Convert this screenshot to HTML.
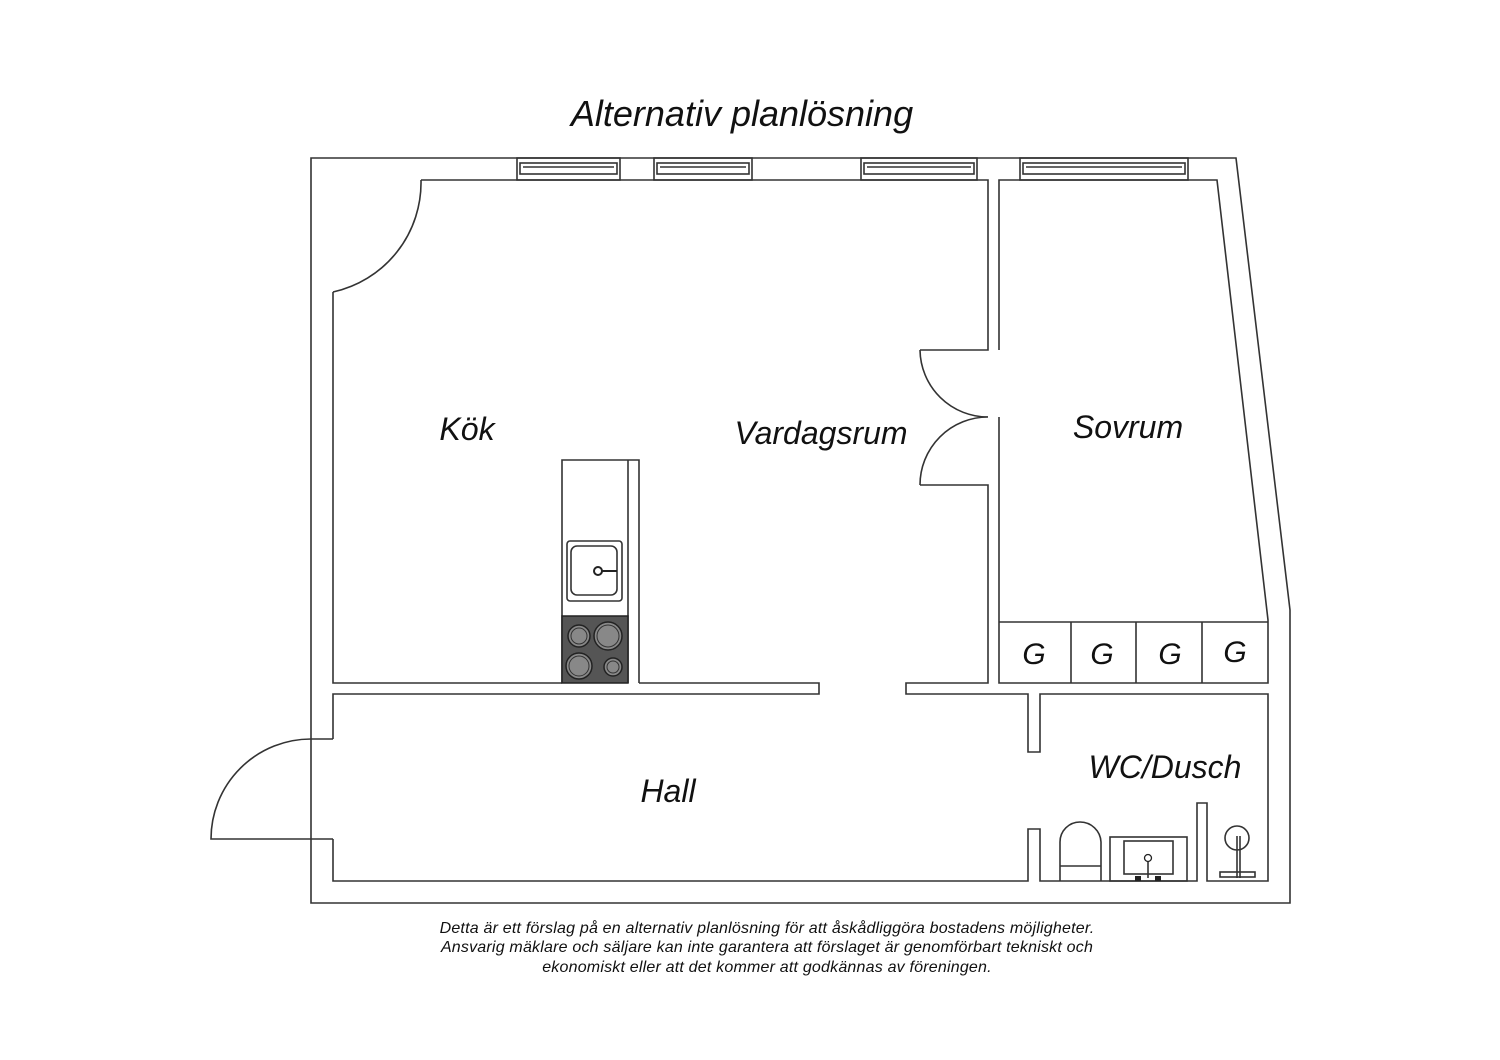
<!DOCTYPE html>
<html><head><meta charset="utf-8"><style>
html,body{margin:0;padding:0;background:#fff;}
svg{display:block}
text{font-family:"Liberation Sans",sans-serif;font-style:italic;fill:#111;}
</style></head><body>
<svg width="1500" height="1060" viewBox="0 0 1500 1060" xmlns="http://www.w3.org/2000/svg">
<rect width="1500" height="1060" fill="#fff"/>
<g fill="none" stroke="#333" stroke-width="1.6">
<path d="M311,158 L1236,158 L1290,610 L1290,903 L311,903 Z"/>
<path d="M421,180 L988,180 L988,350 L920,350"/>
<path d="M333,292 L333,683 L562,683"/>
<path d="M639,683 L819,683 L819,694 L333,694 L333,739"/>
<path d="M920,485 L988,485 L988,683 L906,683 L906,694 L1028,694 L1028,752 L1040,752 L1040,694 L1268,694 L1268,881 L1207,881 L1207,803 L1197,803 L1197,881 L1040,881 L1040,829 L1028,829 L1028,881 L333,881 L333,839"/>
<path d="M999,350 L999,180 L1217,180 L1268,620 L1268,683 L999,683 L999,417"/>
<path d="M999,622 L1268,622 M1071,622 L1071,683 M1136,622 L1136,683 M1202,622 L1202,683"/>
<path d="M421,180 A112,112 0 0 1 333,292"/>
<path d="M333,739 L311,739 A100,100 0 0 0 211,839 L333,839"/>
<path d="M920,350 A68,68 0 0 0 988,417 A68,68 0 0 0 920,485"/>
<g>
<rect x="517" y="158" width="103" height="22"/><rect x="520" y="163" width="97" height="11"/><line x1="523" y1="167" x2="614" y2="167"/>
<rect x="654" y="158" width="98" height="22"/><rect x="657" y="163" width="92" height="11"/><line x1="660" y1="167" x2="746" y2="167"/>
<rect x="861" y="158" width="116" height="22"/><rect x="864" y="163" width="110" height="11"/><line x1="867" y1="167" x2="971" y2="167"/>
<rect x="1020" y="158" width="168" height="22"/><rect x="1023" y="163" width="162" height="11"/><line x1="1026" y1="167" x2="1182" y2="167"/>
</g>
<path d="M562,683 L562,460 L639,460 L639,683 M628,460 L628,683"/>
<rect x="567" y="541" width="55" height="60" rx="3"/>
<rect x="571" y="546" width="46" height="49" rx="6"/>
<path d="M1060,881 L1060,842 A20,20 0 0 1 1080,822 A21,21 0 0 1 1101,842 L1101,881 M1060,866 L1101,866"/>
<rect x="1110" y="837" width="77" height="44"/>
<rect x="1124" y="841" width="49" height="33"/>
<line x1="1148" y1="860" x2="1148" y2="878"/>
<circle cx="1237" cy="838" r="12"/>
<line x1="1237" y1="836" x2="1237" y2="878"/><line x1="1240" y1="836" x2="1240" y2="878"/>
<rect x="1220" y="872" width="35" height="5"/>
</g>
<circle cx="598" cy="571" r="4" fill="none" stroke="#222" stroke-width="2"/>
<line x1="602" y1="571" x2="617" y2="571" stroke="#222" stroke-width="2"/>
<circle cx="1148" cy="858" r="3.5" fill="#fff" stroke="#222" stroke-width="1.3"/>
<rect x="1135" y="876" width="6" height="5" fill="#222"/><rect x="1155" y="876" width="6" height="5" fill="#222"/>
<rect x="562" y="616" width="66" height="67" fill="#555" stroke="#222" stroke-width="1.5"/>
<g stroke="#222" stroke-width="1.5" fill="#888">
<circle cx="579" cy="636" r="11"/><circle cx="608" cy="636" r="14"/>
<circle cx="579" cy="666" r="13"/><circle cx="613" cy="667" r="9"/>
</g>
<g stroke="#333" stroke-width="1" fill="none">
<circle cx="579" cy="636" r="8"/><circle cx="608" cy="636" r="11"/>
<circle cx="579" cy="666" r="10"/><circle cx="613" cy="667" r="6"/>
</g>
<text x="742" y="126" font-size="36" text-anchor="middle">Alternativ planlösning</text>
<text x="467" y="440" font-size="32" text-anchor="middle">Kök</text>
<text x="821" y="444" font-size="32" text-anchor="middle">Vardagsrum</text>
<text x="1128" y="438" font-size="32" text-anchor="middle">Sovrum</text>
<text x="668" y="802" font-size="32" text-anchor="middle">Hall</text>
<text x="1165" y="778" font-size="32" text-anchor="middle">WC/Dusch</text>
<g font-size="30" text-anchor="middle">
<text x="1034" y="664">G</text><text x="1102" y="664">G</text><text x="1170" y="664">G</text><text x="1235" y="662">G</text>
</g>
<g font-size="16" text-anchor="middle" letter-spacing="0.2">
<text x="767" y="933">Detta är ett förslag på en alternativ planlösning för att åskådliggöra bostadens möjligheter.</text>
<text x="767" y="952">Ansvarig mäklare och säljare kan inte garantera att förslaget är genomförbart tekniskt och</text>
<text x="767" y="972">ekonomiskt eller att det kommer att godkännas av föreningen.</text>
</g>
</svg>
</body></html>
